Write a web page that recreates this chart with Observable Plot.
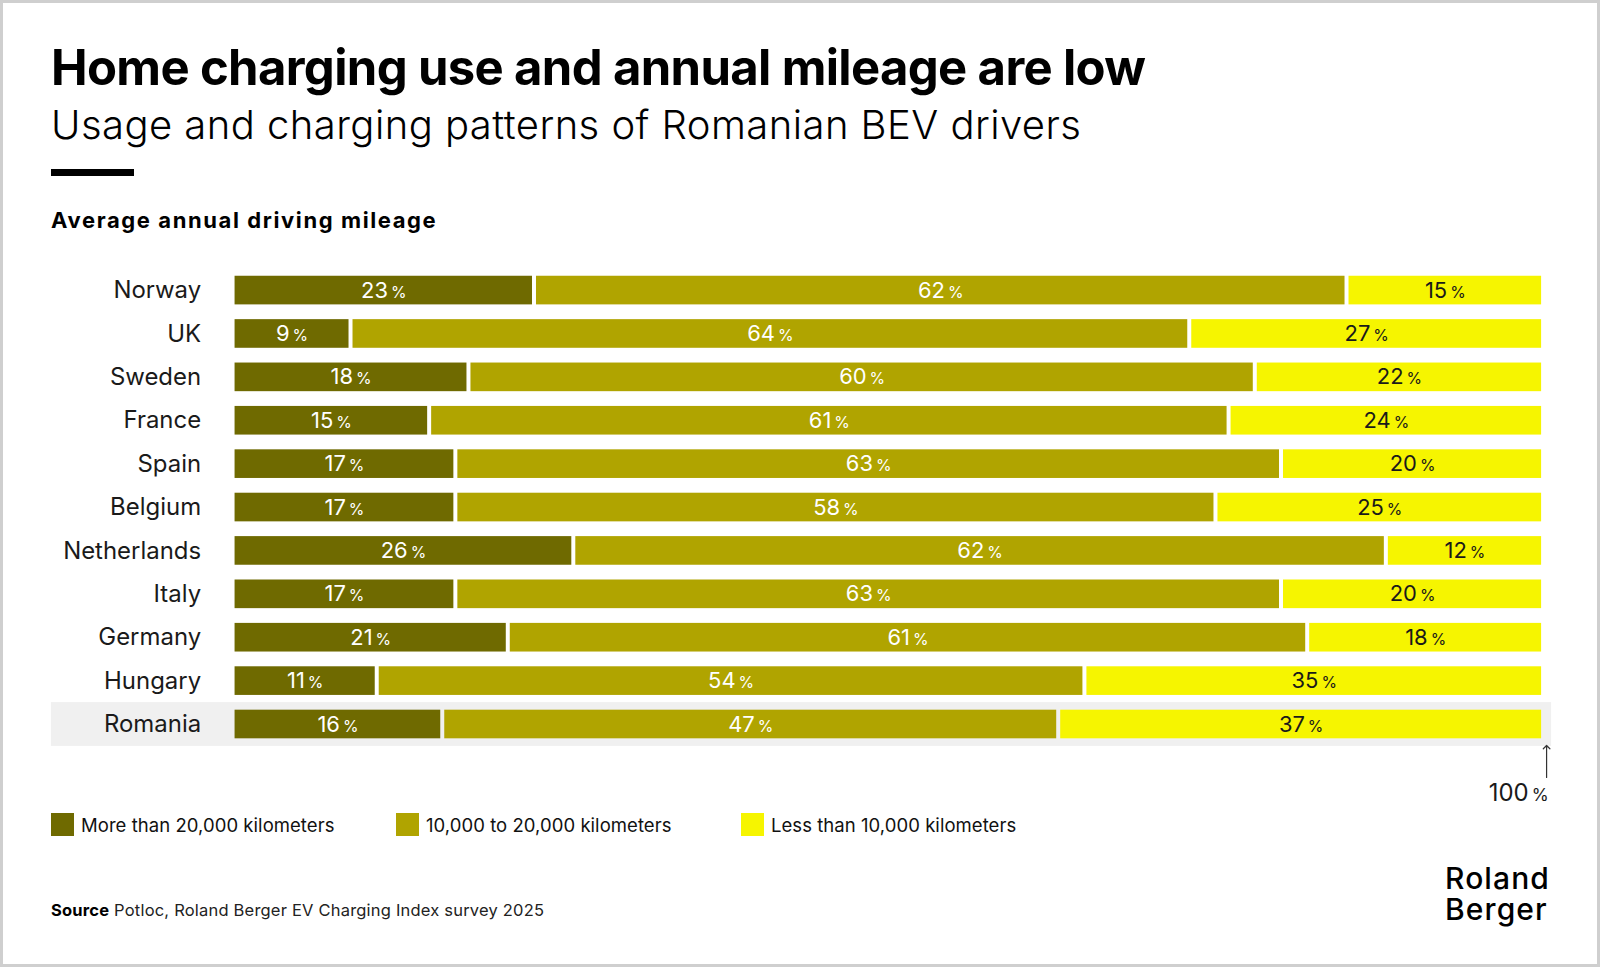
<!DOCTYPE html>
<html><head><meta charset="utf-8">
<script src="https://cdn.jsdelivr.net/npm/d3@7"></script>
<script src="https://cdn.jsdelivr.net/npm/@observablehq/plot@0.6"></script>
<style>
body{margin:0;background:#fff;font-family:Inter,"Noto Sans",sans-serif;color:#111;}
#frame{position:relative;width:1600px;height:967px;box-sizing:border-box;border:3px solid #cfcfcf;overflow:hidden;background:#fff;}
#frame>div{position:absolute;white-space:nowrap;}
#title{left:48px;top:40px;font-size:49px;font-weight:700;line-height:1;letter-spacing:-0.65px;color:#000;}
#subtitle{left:48px;top:102px;font-size:40px;font-weight:300;line-height:1;letter-spacing:0.45px;color:#000;}
#rule{left:48px;top:166px;width:83px;height:7px;background:#000;}
#section{left:48px;top:206px;font-size:22px;font-weight:700;line-height:1;letter-spacing:1.6px;color:#000;}
#chart{left:-3px;top:257px;}
#legend{left:0;top:810px;width:1594px;height:30px;}
.li{position:absolute;top:0;display:flex;align-items:center;font-size:18.5px;letter-spacing:0.05px;color:#111;}
.sw{width:23px;height:23px;margin-right:7px;}
#source{left:48px;top:899px;font-size:16.5px;line-height:1;letter-spacing:0.2px;color:#222;}
#source b{font-weight:700;color:#000;}
.logo{left:1442px;font-size:30px;font-weight:500;line-height:30px;color:#000;letter-spacing:1.1px;}
#logo1{top:860px;}
#logo2{top:891px;}
</style></head><body>
<div id="frame">
 <div id="title">Home charging use and annual mileage are low</div>
 <div id="subtitle">Usage and charging patterns of Romanian BEV drivers</div>
 <div id="rule"></div>
 <div id="section">Average annual driving mileage</div>
 <div id="chart"></div>
 <div id="legend"></div>
 <div id="source"><b>Source</b> Potloc, Roland Berger EV Charging Index survey 2025</div>
 <div class="logo" id="logo1">Roland</div>
 <div class="logo" id="logo2">Berger</div>
</div>
<script>
const countries = ["Norway","UK","Sweden","France","Spain","Belgium","Netherlands","Italy","Germany","Hungary","Romania"];
const moreThan20k = [23, 9, 18, 15, 17, 17, 26, 17, 21, 11, 16];
const from10kTo20k = [62, 64, 60, 61, 63, 58, 62, 63, 61, 54, 47];
const lessThan10k = [15, 27, 22, 24, 20, 25, 12, 20, 18, 35, 37];
const seriesNames = ["More than 20,000 kilometers","10,000 to 20,000 kilometers","Less than 10,000 kilometers"];
const seriesColors = ["#6f6a00","#b0a400","#f6f500"];
const labelColors = ["#ffffff","#ffffff","#1a1a1a"];
const highlight = ["Romania"];
const totalMark = [100];
const legendX = [51, 396, 741];

const seriesValues = [moreThan20k, from10kTo20k, lessThan10k];
const table = [];
countries.forEach((c, i) => {
  seriesValues.forEach((vals, s) => {
    table.push({country: c, series: s, value: vals[i]});
  });
});

const chart = Plot.plot({
  width: 1600,
  height: 548,
  marginLeft: 233,
  marginRight: 54,
  marginTop: 1,
  marginBottom: 54,
  style: {fontFamily: "Inter, 'Noto Sans', sans-serif", background: "transparent", overflow: "visible", color: "#1a1a1a"},
  x: {domain: [0, 100], axis: null},
  y: {domain: countries, padding: 0.34, round: false, label: null},
  marks: [
    Plot.barX(highlight, {x1: () => 0, x2: () => 100, y: d => d, fill: "#f0f0f0",
      insetLeft: -182, insetRight: -8, insetTop: -7.6, insetBottom: -7.6}),
    Plot.barX(table, Plot.stackX({x: "value", y: "country", fill: d => seriesColors[d.series], insetLeft: 2, insetRight: 2})),
    Plot.text(table, Plot.stackX({x: "value", y: "country", text: d => d.value + " %", fill: d => labelColors[d.series], fontSize: 22})),
    Plot.axisY({tickSize: 0, tickPadding: 32, fontSize: 24, label: null, fill: "#1a1a1a", style: "letter-spacing:1.3px"}),
    Plot.vector(totalMark, {x: d => d, y: () => highlight[0], length: 32, anchor: "start", shape: "arrow", r: 1.8, dx: 3, dy: 53, stroke: "#333", strokeWidth: 1.2}),
    Plot.text(totalMark, {x: d => d, y: () => highlight[0], text: d => d + " %", textAnchor: "end", dx: 5, dy: 69, fontSize: 24, fill: "#1a1a1a"})
  ]
});
document.getElementById("chart").appendChild(chart);

// smaller percent sign, as in the original typography
chart.querySelectorAll('g[aria-label="text"] text').forEach(t => {
  const s = t.textContent;
  if (s.endsWith(" %")) {
    t.textContent = s.slice(0, -2);
    const sp = document.createElementNS("http://www.w3.org/2000/svg", "tspan");
    sp.setAttribute("dx", "3");
    sp.setAttribute("font-size", "0.72em");
    sp.textContent = "%";
    t.appendChild(sp);
  }
});

const legend = document.getElementById("legend");
seriesNames.forEach((n, i) => {
  const li = document.createElement("div");
  li.className = "li";
  li.style.left = (legendX[i] - 3) + "px";
  li.innerHTML = `<span class="sw" style="background:${seriesColors[i]}"></span><span>${n}</span>`;
  legend.appendChild(li);
});
</script>
</body></html>
